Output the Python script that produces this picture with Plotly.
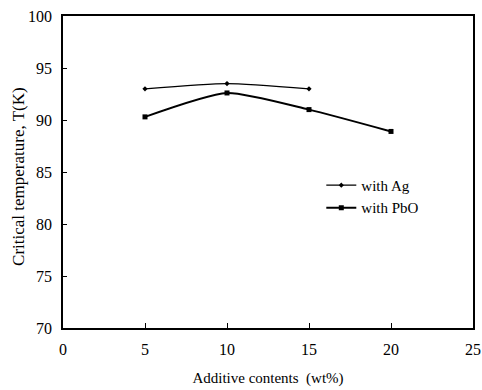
import plotly.graph_objects as go

ag_x = [5, 10, 15]
ag_y = [93.0, 93.5, 93.0]
pbo_x = [5, 10, 15, 20]
pbo_y = [90.3, 92.6, 91.0, 88.9]
x_ticks = [0, 5, 10, 15, 20, 25]
y_ticks = [70, 75, 80, 85, 90, 95, 100]

font = "Liberation Serif"
fig = go.Figure()
fig.add_trace(go.Scatter(x=ag_x, y=ag_y, mode="lines+markers", name="with Ag",
                         line=dict(color="black", width=1.2, shape="spline", smoothing=0.6),
                         marker=dict(symbol="diamond", size=4, color="black")))
fig.add_trace(go.Scatter(x=pbo_x, y=pbo_y, mode="lines+markers", name="with PbO",
                         line=dict(color="black", width=2, shape="spline", smoothing=0.6),
                         marker=dict(symbol="square", size=5, color="black")))
fig.update_layout(
    width=482, height=390,
    margin=dict(l=63, r=9, t=16, b=62),
    paper_bgcolor="white", plot_bgcolor="white",
    font=dict(family=font, size=14, color="black"),
    showlegend=True,
    legend=dict(x=0.63, y=0.51, xanchor="left", yanchor="top", bgcolor="rgba(0,0,0,0)",
                font=dict(family=font, size=15), itemwidth=30, tracegroupgap=6),
    xaxis=dict(range=[0, 25], tickvals=x_ticks, ticks="inside", ticklen=5, tickcolor="black",
               showline=True, linecolor="black", linewidth=1.5, mirror=True, showgrid=False,
               zeroline=False, tickfont=dict(family=font, size=16), ticklabelstandoff=6,
               automargin=False,
               title=dict(text="Additive contents  (wt%)", font=dict(family=font, size=15), standoff=16)),
    yaxis=dict(range=[70, 100], tickvals=y_ticks, ticks="inside", ticklen=4, tickcolor="black",
               showline=True, linecolor="black", linewidth=1.5, mirror=True, showgrid=False,
               zeroline=False, tickfont=dict(family=font, size=16), ticklabelstandoff=6,
               automargin=False),
)
fig.add_annotation(text="Critical temperature, T(K)", textangle=-90, showarrow=False,
                   xref="paper", yref="paper", x=-0.11, y=0.487, xanchor="center", yanchor="middle",
                   font=dict(family=font, size=17))
fig.write_html("out.html")
